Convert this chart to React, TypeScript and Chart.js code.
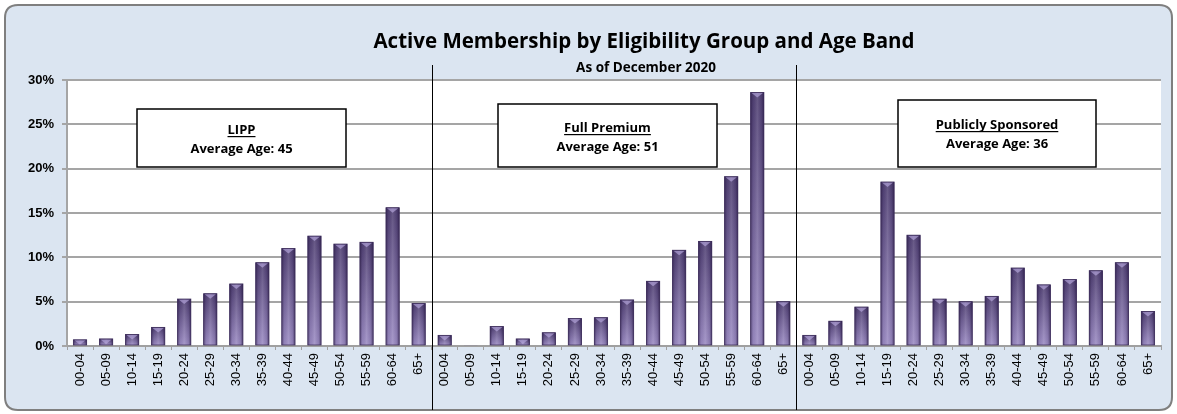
import React, { useEffect, useRef } from "react";
import { Chart, registerables } from "chart.js";

Chart.register(...registerables);

const AGE_BANDS = ["00-04", "05-09", "10-14", "15-19", "20-24", "25-29", "30-34", "35-39", "40-44", "45-49", "50-54", "55-59", "60-64", "65+"];
const GROUPS = ["LIPP", "Full Premium", "Publicly Sponsored"];
const AVERAGE_AGES = [45, 51, 36];
const LIPP = [0.7, 0.8, 1.3, 2.1, 5.3, 5.9, 7.0, 9.4, 11.0, 12.4, 11.5, 11.7, 15.6, 4.8];
const FULL_PREMIUM = [1.2, 0.1, 2.2, 0.8, 1.5, 3.1, 3.2, 5.2, 7.3, 10.8, 11.8, 19.1, 28.6, 5.0];
const PUBLICLY_SPONSORED = [1.2, 2.8, 4.4, 18.5, 12.5, 5.3, 5.0, 5.6, 8.8, 6.9, 7.5, 8.5, 9.4, 3.9];
const Y_TICKS = [0, 5, 10, 15, 20, 25, 30];
const TITLE = "Active Membership by Eligibility Group and Age Band";
const SUBTITLE = "As of December 2020";

// layout (pixels) for annotation boxes: [left, top, right, bottom, line1 baseline, line2 baseline]
const BOX_LAYOUT = [
  [137, 109, 346, 167, 134, 153],
  [498, 104, 717, 167, 132, 151],
  [898, 100, 1096, 167, 129, 148],
];

const W = 1177;
const H = 414;

const decorPlugin = {
  id: "decor",
  beforeDraw(chart: any) {
    const ctx = chart.ctx;
    const ca = chart.chartArea;
    ctx.save();
    // rounded frame
    const x0 = 5, y0 = 5, x1 = 1172, y1 = 410, r = 13;
    ctx.beginPath();
    ctx.moveTo(x0 + r, y0);
    ctx.lineTo(x1 - r, y0);
    ctx.quadraticCurveTo(x1, y0, x1, y0 + r);
    ctx.lineTo(x1, y1 - r);
    ctx.quadraticCurveTo(x1, y1, x1 - r, y1);
    ctx.lineTo(x0 + r, y1);
    ctx.quadraticCurveTo(x0, y1, x0, y1 - r);
    ctx.lineTo(x0, y0 + r);
    ctx.quadraticCurveTo(x0, y0, x0 + r, y0);
    ctx.closePath();
    ctx.fillStyle = "#dbe5f1";
    ctx.fill();
    ctx.lineWidth = 2;
    ctx.strokeStyle = "#7f7f7f";
    ctx.stroke();
    // plot area
    ctx.fillStyle = "#ffffff";
    ctx.fillRect(ca.left, ca.top, ca.right - ca.left, ca.bottom - ca.top);
    // titles
    ctx.fillStyle = "#000000";
    ctx.textAlign = "center";
    ctx.textBaseline = "alphabetic";
    ctx.font = "bold 20.5px 'Open Sans'";
    ctx.fillText(TITLE, 644, 48);
    ctx.font = "bold 13.5px 'Open Sans'";
    ctx.fillText(SUBTITLE, 646, 72);
    ctx.restore();
  },
  afterDatasetsDraw(chart: any) {
    const ctx = chart.ctx;
    const meta = chart.getDatasetMeta(0);
    ctx.save();
    meta.data.forEach((el: any) => {
      const { x, y, base, width } = el.getProps(["x", "y", "base", "width"], true);
      const l = x - width / 2;
      const h = base - y;
      if (h <= 0.2) return;
      const g = ctx.createLinearGradient(0, y, 0, base);
      g.addColorStop(0, "#4f3f72");
      g.addColorStop(1, "#9c8cc4");
      ctx.fillStyle = g;
      ctx.fillRect(l, y, width, h);
      const hg = ctx.createLinearGradient(l, 0, l + width, 0);
      hg.addColorStop(0, "rgba(35,22,60,0.55)");
      hg.addColorStop(0.18, "rgba(35,22,60,0.08)");
      hg.addColorStop(0.5, "rgba(255,255,255,0.12)");
      hg.addColorStop(0.82, "rgba(35,22,60,0.12)");
      hg.addColorStop(1, "rgba(35,22,60,0.6)");
      ctx.fillStyle = hg;
      ctx.fillRect(l, y, width, h);
      const th = Math.min(width * 0.38, h);
      ctx.beginPath();
      ctx.moveTo(l + 1, y + 0.5);
      ctx.lineTo(l + width - 1, y + 0.5);
      ctx.lineTo(x, y + th);
      ctx.closePath();
      ctx.fillStyle = "rgba(190,175,230,0.6)";
      ctx.fill();
      ctx.lineWidth = 0.8;
      ctx.strokeStyle = "rgba(55,40,85,0.9)";
      ctx.strokeRect(l, y, width, h);
    });
    ctx.restore();
  },
  afterDraw(chart: any) {
    const ctx = chart.ctx;
    const xs = chart.scales.x;
    ctx.save();
    // group dividers
    ctx.strokeStyle = "#000000";
    ctx.lineWidth = 1;
    for (let gI = 1; gI < GROUPS.length; gI++) {
      const idx = gI * AGE_BANDS.length;
      const px = Math.round((xs.getPixelForValue(idx - 1) + xs.getPixelForValue(idx)) / 2) + 0.5;
      ctx.beginPath();
      ctx.moveTo(px, 65);
      ctx.lineTo(px, 410);
      ctx.stroke();
    }
    // annotation boxes
    GROUPS.forEach((name, i) => {
      const [l, t, r, b, b1, b2] = BOX_LAYOUT[i];
      ctx.fillStyle = "#ffffff";
      ctx.fillRect(l, t, r - l, b - t);
      ctx.lineWidth = 1.5;
      ctx.strokeStyle = "#000000";
      ctx.strokeRect(l, t, r - l, b - t);
      const cx = (l + r) / 2;
      ctx.fillStyle = "#000000";
      ctx.textAlign = "center";
      ctx.textBaseline = "alphabetic";
      ctx.font = "bold 13px 'Open Sans'";
      ctx.fillText(name, cx, b1);
      const w = ctx.measureText(name).width;
      ctx.fillRect(cx - w / 2, b1 + 2, w, 1.2);
      ctx.fillText("Average Age: " + AVERAGE_AGES[i], cx, b2);
    });
    ctx.restore();
  },
};

export default function App() {
  const ref = useRef<HTMLCanvasElement>(null);
  useEffect(() => {
    document.body.style.margin = "0";
    const labels = [...AGE_BANDS, ...AGE_BANDS, ...AGE_BANDS];
    const values = [...LIPP, ...FULL_PREMIUM, ...PUBLICLY_SPONSORED];
    const chart = new Chart(ref.current as HTMLCanvasElement, {
      type: "bar",
      data: {
        labels,
        datasets: [
          {
            data: values,
            backgroundColor: "#6b5b95",
            borderWidth: 0,
            barPercentage: 0.51,
            categoryPercentage: 1,
          },
        ],
      },
      options: {
        responsive: false,
        animation: false,
        devicePixelRatio: 1,
        layout: { padding: { left: 0, top: 80, right: 16, bottom: 0 } },
        plugins: { legend: { display: false }, tooltip: { enabled: false }, title: { display: false } },
        scales: {
          x: {
            offset: true,
            afterFit: (s: any) => {
              s.height = 68;
            },
            grid: { display: true, drawOnChartArea: false, offset: true, tickLength: 4, color: "#a0a0a0", lineWidth: 1 },
            border: { color: "#a0a0a0", width: 2 },
            ticks: {
              autoSkip: false,
              maxRotation: 90,
              minRotation: 90,
              padding: 3,
              color: "#000000",
              font: { family: "Liberation Sans", size: 13 },
            },
          },
          y: {
            min: 0,
            max: 30,
            afterFit: (s: any) => {
              s.width = 67;
            },
            afterBuildTicks: (s: any) => {
              s.ticks = Y_TICKS.map((v) => ({ value: v }));
            },
            grid: { color: "#a5a5a5", lineWidth: 2, tickLength: 5 },
            border: { color: "#a5a5a5", width: 2 },
            ticks: {
              padding: 8,
              color: "#000000",
              font: { family: "Liberation Sans", size: 13, weight: "bold" },
              callback: (v: any) => v + "%",
            },
          },
        },
      },
      plugins: [decorPlugin],
    });
    return () => chart.destroy();
  }, []);
  return (
    <div style={{ position: "absolute", left: 0, top: 0, width: W, height: H }}>
      <canvas ref={ref} width={W} height={H} style={{ width: W, height: H, display: "block" }} />
    </div>
  );
}
